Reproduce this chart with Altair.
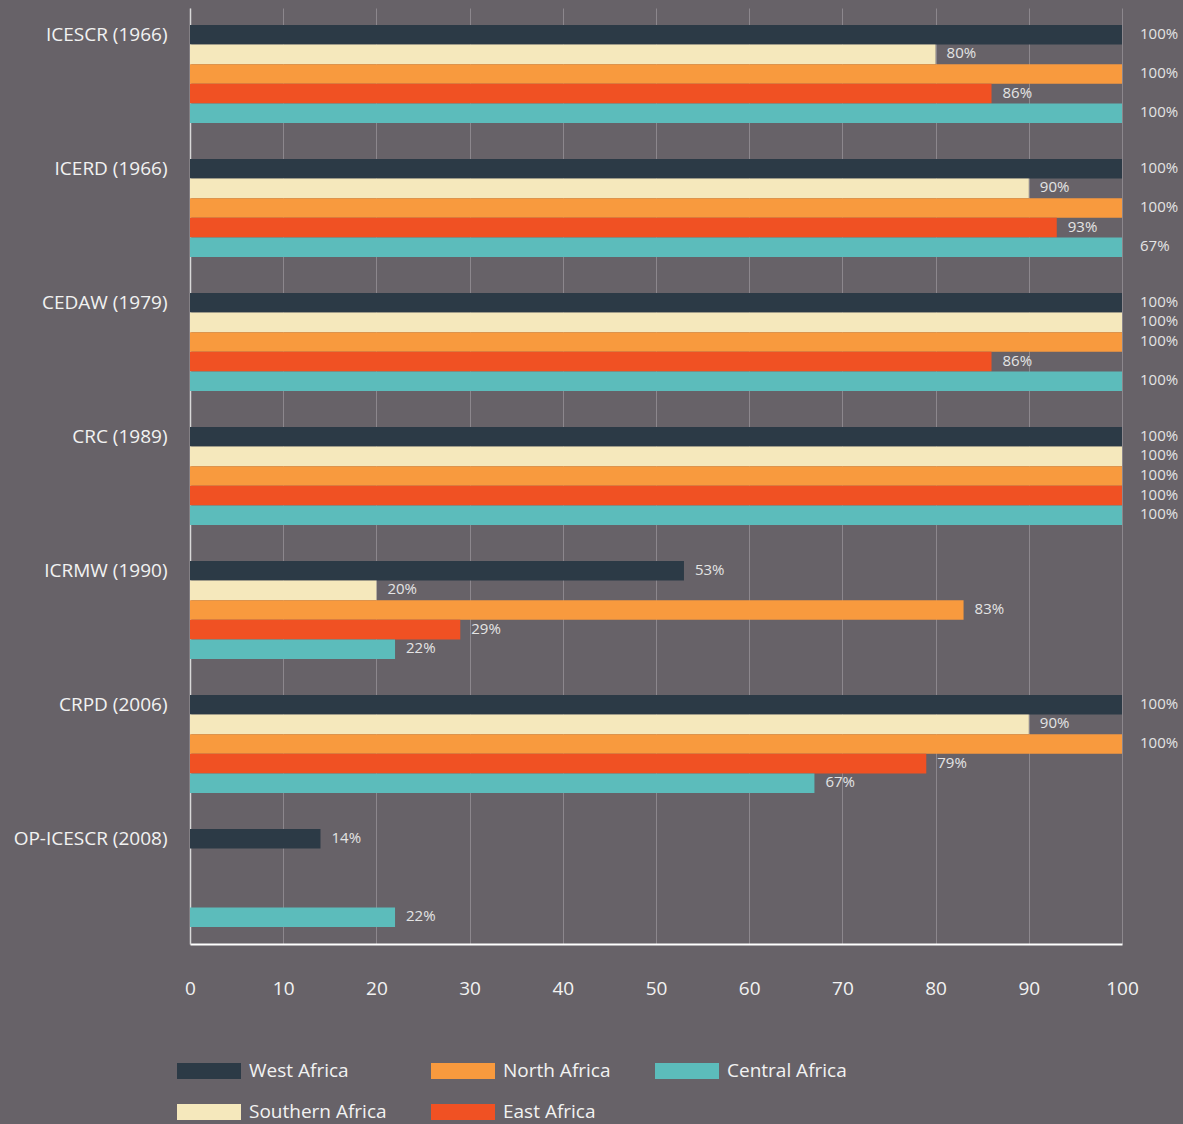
import altair as alt
import pandas as pd
import jinja2

treaties = ["ICESCR (1966)", "ICERD (1966)", "CEDAW (1979)", "CRC (1989)",
            "ICRMW (1990)", "CRPD (2006)", "OP-ICESCR (2008)"]
regions = ["West Africa", "Southern Africa", "North Africa", "East Africa", "Central Africa"]
legend_order = ["West Africa", "North Africa", "Central Africa", "Southern Africa", "East Africa"]
legend_colors = ["#2c3a46", "#f89a3e", "#5cbcbb", "#f5e8bc", "#f05123"]

# bar lengths as drawn (percent of countries)
west = [100, 100, 100, 100, 53, 100, 14]
southern = [80, 90, 100, 100, 20, 90, None]
north = [100, 100, 100, 100, 83, 100, None]
east = [86, 93, 86, 100, 29, 79, None]
central = [100, 100, 100, 100, 22, 67, 22]

# value labels as printed
west_lbl = ["100%", "100%", "100%", "100%", "53%", "100%", "14%"]
southern_lbl = ["80%", "90%", "100%", "100%", "20%", "90%", None]
north_lbl = ["100%", "100%", "100%", "100%", "83%", "100%", None]
east_lbl = ["86%", "93%", "86%", "100%", "29%", "79%", None]
central_lbl = ["100%", "67%", "100%", "100%", "22%", "67%", "22%"]

x_ticks = [0, 10, 20, 30, 40, 50, 60, 70, 80, 90, 100]

series = {
    "West Africa": (west, west_lbl),
    "Southern Africa": (southern, southern_lbl),
    "North Africa": (north, north_lbl),
    "East Africa": (east, east_lbl),
    "Central Africa": (central, central_lbl),
}

rows = []
for region in regions:
    vals, lbls = series[region]
    for t, v, l in zip(treaties, vals, lbls):
        if v is not None:
            rows.append({"treaty": t, "region": region, "value": v, "label": l})
df = pd.DataFrame(rows)

FONT = "Open Sans"
TXT = "#f2f2f2"
BG = "#676268"

y_enc = alt.Y("treaty:N", sort=treaties,
              scale=alt.Scale(paddingInner=0.269, paddingOuter=0.127),
              axis=alt.Axis(title=None, labelOffset=-39, labelFontSize=19, labelFont=FONT,
                            labelColor=TXT, labelPadding=23, ticks=False,
                            domainColor="#d8d8d8", domainWidth=1.5,
                            minExtent=182, maxExtent=182, labelLimit=300))
yoff_enc = alt.YOffset("region:N", sort=regions,
                       scale=alt.Scale(paddingInner=0, paddingOuter=0))
x_enc = alt.X("value:Q", scale=alt.Scale(domain=[0, 100], nice=False),
              axis=alt.Axis(title=None, values=x_ticks, labelFontSize=19, labelFlush=False,
                            labelFont=FONT, labelColor=TXT, labelPadding=35, ticks=False,
                            domainColor="#ffffff", domainWidth=2,
                            grid=True, gridColor="#8c878d", gridWidth=1))

bars = alt.Chart(df).mark_bar().encode(
    y=y_enc,
    yOffset=yoff_enc,
    x=x_enc,
    color=alt.Color("region:N",
                    scale=alt.Scale(domain=legend_order, range=legend_colors),
                    legend=alt.Legend(title=None, orient="none", legendX=-13, legendY=1053,
                                      direction="horizontal", columns=3, gridAlign="each",
                                      columnPadding=44, rowPadding=21,
                                      symbolType="M-1,-0.25L1,-0.25L1,0.25L-1,0.25Z",
                                      symbolSize=4096, clipHeight=20,
                                      symbolStrokeWidth=0, symbolOpacity=1,
                                      labelFontSize=19, labelFont=FONT, labelColor=TXT,
                                      labelOffset=8, padding=0)),
)

text_style = dict(align="left", baseline="middle", dy=-1, fontSize=15, font=FONT, color="#e4e4e4")

labels_full = alt.Chart(df).transform_filter("datum.value >= 100").mark_text(
    dx=18, **text_style).encode(
    y=alt.Y("treaty:N", sort=treaties),
    yOffset=alt.YOffset("region:N", sort=regions),
    x=alt.X("value:Q"),
    text="label:N",
)

labels_part = alt.Chart(df).transform_filter("datum.value < 100").mark_text(
    dx=11, **text_style).encode(
    y=alt.Y("treaty:N", sort=treaties),
    yOffset=alt.YOffset("region:N", sort=regions),
    x=alt.X("value:Q"),
    text="label:N",
)

chart = (bars + labels_full + labels_part).properties(
    width=932, height=936,
    padding={"left": 0, "top": 0, "right": 0, "bottom": 0},
    background=BG,
).configure_view(stroke=None)

PAGE = jinja2.Template("""<!DOCTYPE html>
<html>
<head>
  <meta charset="utf-8">
  <style>
    html, body { background: """ + BG + """; }
    body { margin: 8px 0 0 8px; }
    #{{ output_div }}.vega-embed { width: 100%; display: flex; }
  </style>
  <script type="text/javascript" src="{{ base_url }}/vega@{{ vega_version }}"></script>
  <script type="text/javascript" src="{{ base_url }}/vega-lite@{{ vegalite_version }}"></script>
  <script type="text/javascript" src="{{ base_url }}/vega-embed@{{ vegaembed_version }}"></script>
</head>
<body>
  <div id="{{ output_div }}"></div>
  <script type="text/javascript">
    (function(vegaEmbed) {
      var spec = {{ spec }};
      var embedOpt = {{ embed_options }};
      vegaEmbed("#{{ output_div }}", spec, embedOpt).catch(function(err) {
        document.getElementById("{{ output_div }}").innerHTML = "<pre>" + err + "</pre>";
        throw err;
      });
    })(vegaEmbed);
  </script>
</body>
</html>
""")

chart.save("out.html", embed_options={"renderer": "svg", "actions": False}, template=PAGE)
